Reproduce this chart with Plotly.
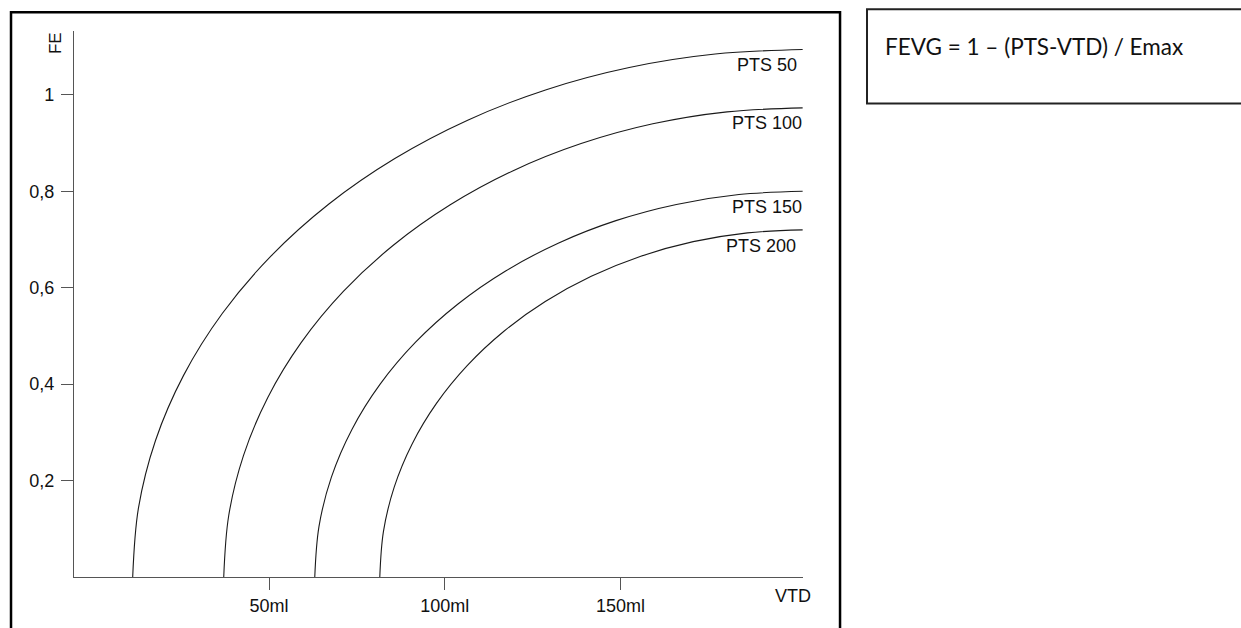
import plotly.graph_objects as go

# ---- data (VTD in ml, FE as fraction) ----
pts50_x = [11.2, 12.83, 17.69, 25.71, 36.73, 50.59, 67.02, 85.77, 106.5, 128.86, 152.47, 176.92, 201.8]
pts50_y = [0.0, 0.1428, 0.2832, 0.4187, 0.547, 0.666, 0.7736, 0.8679, 0.9474, 1.0107, 1.0567, 1.0846, 1.094]

pts100_x = [37.1, 38.51, 42.71, 49.64, 59.17, 71.13, 85.34, 101.54, 119.45, 138.77, 159.17, 180.3, 201.8]
pts100_y = [0.0, 0.127, 0.2518, 0.3724, 0.4865, 0.5923, 0.688, 0.7719, 0.8427, 0.8989, 0.9399, 0.9647, 0.973]

pts150_x = [63.0, 64.19, 67.73, 73.57, 81.6, 91.68, 103.65, 117.3, 132.4, 148.68, 165.88, 183.68, 201.8]
pts150_y = [0.0, 0.1044, 0.2071, 0.3061, 0.4, 0.487, 0.5657, 0.6347, 0.6928, 0.7391, 0.7727, 0.7932, 0.8]

pts200_x = [81.5, 82.53, 85.6, 90.66, 97.62, 106.36, 116.73, 128.57, 141.65, 155.76, 170.66, 186.1, 201.8]
pts200_y = [0.0, 0.094, 0.1864, 0.2755, 0.36, 0.4383, 0.5091, 0.5712, 0.6235, 0.6652, 0.6955, 0.7138, 0.72]

curve_names = ["PTS 50", "PTS 100", "PTS 150", "PTS 200"]

x_tickvals = [50, 100, 150]
x_ticktext = ["50ml", "100ml", "150ml"]
y_tickvals = [0.2, 0.4, 0.6, 0.8, 1.0]
y_ticktext = ["0,2", "0,4", "0,6", "0,8", "1"]

formula_text = "FEVG = 1 \u2013 (PTS-VTD) / Emax"

# ---- figure ----
curves = [(pts50_x, pts50_y), (pts100_x, pts100_y), (pts150_x, pts150_y), (pts200_x, pts200_y)]
label_xshift = [-4, 1, 1, -5]
label_yshift = [-15, -15, -16, -16]

AX_COLOR = "#555555"
TXT_COLOR = "#111111"
FONT = "Liberation Sans, Arial, sans-serif"

fig = go.Figure()
for (xs, ys), name in zip(curves, curve_names):
    fig.add_trace(go.Scatter(
        x=xs, y=ys, mode="lines", name=name,
        line=dict(color="#1a1a1a", width=1.1, shape="spline", smoothing=1.0),
        hoverinfo="skip",
    ))

annotations = []
for (xs, ys), name, dx, dy in zip(curves, curve_names, label_xshift, label_yshift):
    annotations.append(dict(
        x=xs[-1], y=ys[-1], xref="x", yref="y", text=name, showarrow=False,
        xanchor="right", yanchor="middle", xshift=dx, yshift=dy,
        font=dict(family=FONT, size=18, color=TXT_COLOR),
    ))

# axis titles
annotations.append(dict(
    x=-0.026, y=0.978, xref="paper", yref="paper", text="FE", showarrow=False,
    textangle=-90, xanchor="center", yanchor="middle",
    font=dict(family=FONT, size=17, color=TXT_COLOR),
))
annotations.append(dict(
    x=1.0137, y=-0.034, xref="paper", yref="paper", text="VTD", showarrow=False,
    xanchor="right", yanchor="middle",
    font=dict(family=FONT, size=18, color=TXT_COLOR),
))
# formula box text
annotations.append(dict(
    x=1.1097, y=0.971, xref="paper", yref="paper", text=formula_text, showarrow=False,
    xanchor="left", yanchor="middle",
    font=dict(family="Lato, Carlito, Calibri, sans-serif", size=22.5, color=TXT_COLOR),
))

shapes = [
    # outer chart frame
    dict(type="rect", xref="paper", yref="paper", x0=-0.0864, x1=1.0508, y0=1.0345, y1=-0.12,
         line=dict(color="#000000", width=2.5), fillcolor="rgba(0,0,0,0)", layer="above"),
    # formula box
    dict(type="rect", xref="paper", yref="paper", x0=1.0878, x1=1.75, y0=1.04, y1=0.867,
         line=dict(color="#222222", width=2), fillcolor="rgba(0,0,0,0)", layer="above"),
]

fig.update_layout(
    width=1241, height=628,
    margin=dict(l=74, r=438, t=31, b=47, pad=0),
    paper_bgcolor="white", plot_bgcolor="white",
    showlegend=False, hovermode=False,
    annotations=annotations, shapes=shapes,
    xaxis=dict(
        range=[-5.5, 201.9], showgrid=False, zeroline=False,
        showline=True, linecolor=AX_COLOR, linewidth=1.3,
        ticks="outside", ticklen=12, tickcolor=AX_COLOR, tickwidth=1,
        tickvals=x_tickvals, ticktext=x_ticktext,
        tickfont=dict(family=FONT, size=18, color=TXT_COLOR),
        fixedrange=True,
    ),
    yaxis=dict(
        range=[0, 1.1324], showgrid=False, zeroline=False,
        showline=True, linecolor=AX_COLOR, linewidth=1.3,
        ticks="outside", ticklen=12, tickcolor=AX_COLOR, tickwidth=1,
        tickvals=y_tickvals, ticktext=y_ticktext, ticklabelstandoff=3,
        tickfont=dict(family=FONT, size=18, color=TXT_COLOR),
        fixedrange=True,
    ),
)

fig.write_html(
    "out.html",
    config={"displayModeBar": False},
    post_script="document.body.style.margin='0';document.body.style.overflow='hidden';",
)
